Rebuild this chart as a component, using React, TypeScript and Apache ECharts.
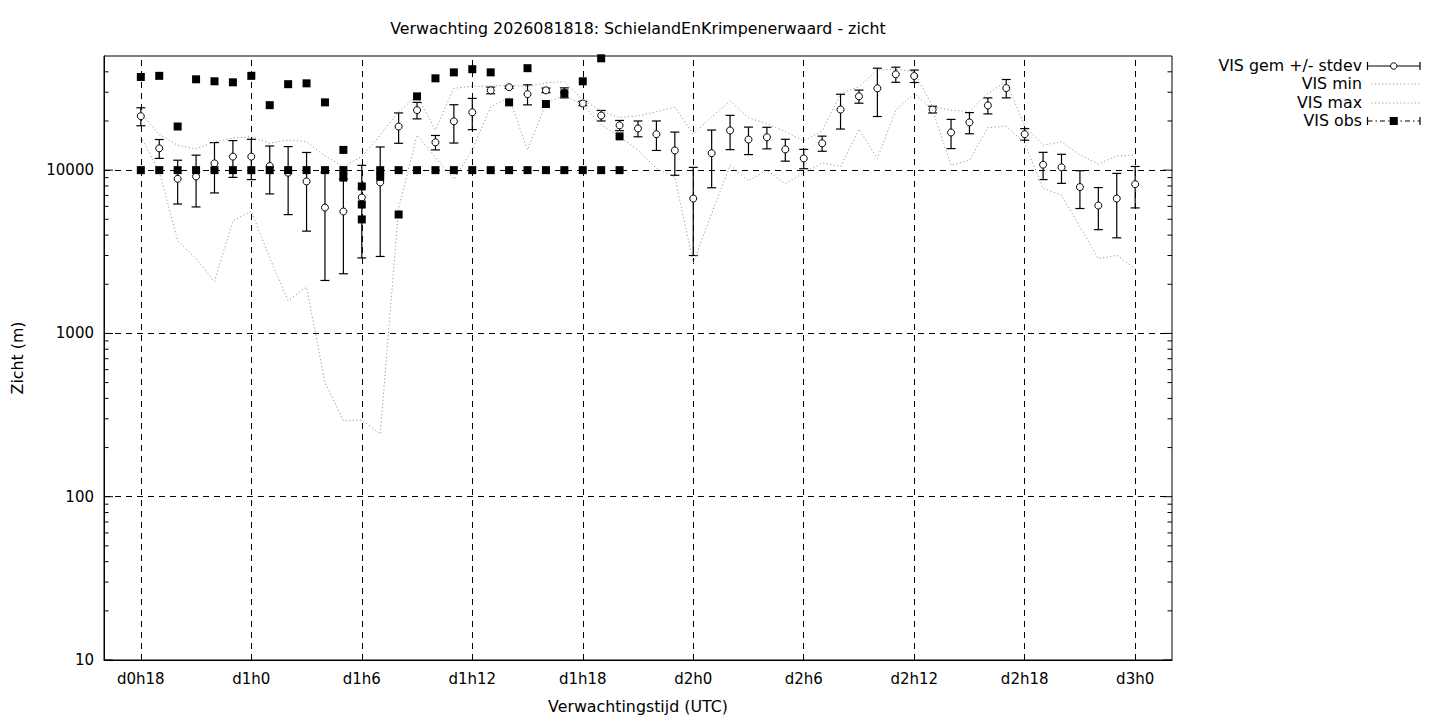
import React, { useEffect, useRef } from "react";
import * as echarts from "echarts";

const FONT = "DejaVu Sans";

const titleText = "Verwachting 2026081818: SchielandEnKrimpenerwaard - zicht";
const yAxisTitle = "Zicht (m)";
const xAxisTitle = "Verwachtingstijd (UTC)";
const legendNames = ["VIS gem +/- stdev", "VIS min", "VIS max", "VIS obs"];

// forecast hours (hours after d0h0)
const hours = [
  18, 19, 20, 21, 22, 23, 24, 25, 26, 27, 28, 29, 30, 31, 32, 33, 34, 35, 36,
  37, 38, 39, 40, 41, 42, 43, 44, 45, 46, 47, 48, 49, 50, 51, 52, 53, 54, 55,
  56, 57, 58, 59, 60, 61, 62, 63, 64, 65, 66, 67, 68, 69, 70, 71, 72,
];
const gemMean = [
  21400, 13600, 8850, 9150, 11000, 12100, 12100, 10600, 9640, 8530, 5900, 5580,
  6800, 8410, 18500, 23300, 14800, 19900, 22600, 30800, 32200, 29200, 30800,
  29800, 25600, 21600, 18800, 18000, 16600, 13200, 6700, 12700, 17500, 15400,
  15900, 13400, 11800, 14600, 23500, 28300, 31700, 38600, 37700, 23500, 17000,
  19600, 24900, 31800, 16600, 10800, 10400, 7870, 6070, 6700, 8200,
];
const gemStdev = [
  2700, 1800, 2650, 3200, 3750, 3070, 3350, 3450, 4300, 4300, 3790, 3260, 3900,
  5450, 3900, 2700, 1500, 5250, 4900, 1450, 500, 4100, 1000, 2100, 800, 1600,
  1350, 2000, 3400, 3900, 3700, 4900, 4150, 2950, 2400, 2050, 1600, 1550, 5650,
  2600, 10400, 4100, 3300, 1100, 3450, 2900, 2800, 4100, 1350, 2050, 2100, 2050,
  1750, 2850, 2330,
];
const visMin = [
  16000, 9800, 3700, 2870, 2080, 4900, 5600, 2900, 1590, 1920, 500, 292, 295,
  243, 5800, 16400, 12000, 8800, 13300, 24400, 27900, 13300, 25600, 28800,
  25000, 19000, 16000, 13260, 10250, 9090, 2700, 5420, 10700, 8600, 10000, 8250,
  9600, 11100, 10500, 17800, 11800, 23300, 29500, 23300, 10700, 11500, 18200,
  18600, 14600, 7730, 7030, 4490, 2870, 3010, 2500,
];
const visMax = [
  22500, 16500, 14200, 13500, 14900, 15700, 16000, 14600, 15300, 14900, 12200,
  10500, 12100, 16400, 22800, 28500, 17600, 31700, 32700, 32700, 33200, 32400,
  34300, 34800, 27000, 23000, 21000, 21500, 22800, 24300, 16600, 21200, 26500,
  20900, 19300, 17200, 15100, 17400, 29500, 32400, 41000, 41500, 40000, 24400,
  23300, 22900, 29500, 34800, 18600, 14200, 14900, 12400, 10900, 12200, 12400,
];

// observations (several readings per hour)
const obsHours = [
  18, 19, 20, 21, 22, 23, 24, 25, 26, 27, 28, 29, 30, 31, 32, 33, 34, 35, 36,
  37, 38, 39, 40, 41, 42, 43, 44,
];
const obsA = [
  37200, 37800, 18500, 36000, 35000, 34500, 37800, 25000, 33600, 34000, 26000,
  13300, 7950, 10000, 10000, 28300, 36500, 39700, 41500, 39700, 26000, 42100,
  25400, 29500, 35000, 48400, 16100,
];
const obsB = [
  10000, 10000, 10000, 10000, 10000, 10000, 10000, 10000, 10000, 10000, 10000,
  10000, 6160, 9100, 5350, 10000, 10000, 10000, 10000, 10000, 10000, 10000,
  10000, 10000, 10000, 10000, 10000,
];
const obsC = [
  null, null, null, null, null, null, null, null, null, null, null, 9000, 4990,
  null, null, null, null, null, null, null, null, null, null, null, null, null,
  null,
];

const xMin = 16;
const xMax = 74;
const xTickHours = [18, 24, 30, 36, 42, 48, 54, 60, 66, 72];
const yMin = 10;
const yMax = 50000;
const yMajorTicks = [10, 100, 1000, 10000];
const yMinorTicks = [
  20, 30, 40, 50, 60, 70, 80, 90, 200, 300, 400, 500, 600, 700, 800, 900, 2000,
  3000, 4000, 5000, 6000, 7000, 8000, 9000, 20000, 30000, 40000,
];

export default function App() {
  const ref = useRef<HTMLDivElement>(null);

  useEffect(() => {
    const chart = echarts.init(ref.current!, null, { renderer: "svg" });

    const gridDash = [6, 5];
    const dotDash = [1.2, 2.4];
    const minMaxColor = "#9a9a9a";
    const textScale = 1.055;

    const obsData: number[][] = [];
    [obsA, obsB, obsC].forEach((arr) => {
      arr.forEach((v, i) => {
        if (v != null) obsData.push([obsHours[i], v as number]);
      });
    });

    const tickData = [
      ...yMajorTicks.map((v) => [xMin, v, 9]),
      ...yMinorTicks.map((v) => [xMin, v, 4.5]),
    ];

    const legendX = 1362;
    const sampleL = 1367.5;
    const sampleR = 1420;
    const sampleM = (sampleL + sampleR) / 2;
    const rowY = [66, 84, 103, 121];
    const txt = (text: string, y: number) => ({
      type: "text",
      x: legendX,
      y,
      scaleX: textScale,
      style: {
        text,
        font: `15px "${FONT}"`,
        fill: "#000",
        align: "right",
        verticalAlign: "middle",
      },
    });
    const blk = { stroke: "#000", lineWidth: 1 };

    const option: any = {
      animation: false,
      backgroundColor: "#fff",
      textStyle: { fontFamily: FONT },
      grid: {
        left: 104,
        top: 56,
        width: 1068,
        height: 604,
        show: true,
        borderColor: "#000",
        borderWidth: 1,
        backgroundColor: "transparent",
      },
      xAxis: {
        type: "value",
        min: xMin,
        max: xMax,
        interval: 2,
        axisLine: { show: true, lineStyle: { color: "#000", width: 1 } },
        axisTick: { show: false },
        splitLine: { show: false },
        axisLabel: {
          color: "#000",
          fontFamily: FONT,
          fontSize: 15,
          margin: 11,
          formatter: (v: number) =>
            xTickHours.includes(v) ? `d${Math.floor(v / 24)}h${v % 24}` : "",
        },
      },
      yAxis: {
        type: "log",
        logBase: 10,
        min: yMin,
        max: yMax,
        axisLine: { show: true, lineStyle: { color: "#000", width: 1 } },
        axisTick: { show: false },
        splitLine: { show: false },
        axisLabel: {
          color: "#000",
          fontFamily: FONT,
          fontSize: 15,
          margin: 10,
          formatter: (v: number) => {
            const r = Math.round(v);
            return yMajorTicks.includes(r) ? String(r) : "";
          },
        },
      },
      series: [
        {
          name: "ticks",
          type: "custom",
          data: tickData,
          encode: { x: 0, y: 1 },
          silent: true,
          renderItem: (params: any, api: any) => {
            const v = api.value(1);
            const len = api.value(2);
            const l = api.coord([xMin, v]);
            const r = api.coord([xMax, v]);
            return {
              type: "group",
              children: [
                {
                  type: "line",
                  shape: { x1: l[0], y1: l[1], x2: l[0] + len, y2: l[1] },
                  style: blk,
                },
                {
                  type: "line",
                  shape: { x1: r[0] - len, y1: r[1], x2: r[0], y2: r[1] },
                  style: blk,
                },
              ],
            };
          },
        },
        {
          name: legendNames[0] + " bars",
          type: "custom",
          data: hours.map((h, i) => [h, gemMean[i], gemStdev[i]]),
          encode: { x: 0, y: 1 },
          silent: true,
          z: 3,
          renderItem: (params: any, api: any) => {
            const h = api.value(0);
            const m = api.value(1);
            const s = api.value(2);
            const t = api.coord([h, m + s]);
            const b = api.coord([h, m - s]);
            const cw = 4.5;
            const st = { stroke: "#000", lineWidth: 1.2 };
            return {
              type: "group",
              children: [
                {
                  type: "line",
                  shape: { x1: t[0], y1: t[1], x2: b[0], y2: b[1] },
                  style: st,
                },
                {
                  type: "line",
                  shape: { x1: t[0] - cw, y1: t[1], x2: t[0] + cw, y2: t[1] },
                  style: st,
                },
                {
                  type: "line",
                  shape: { x1: b[0] - cw, y1: b[1], x2: b[0] + cw, y2: b[1] },
                  style: st,
                },
              ],
            };
          },
        },
        {
          name: legendNames[0],
          type: "scatter",
          data: hours.map((h, i) => [h, gemMean[i]]),
          symbol: "circle",
          symbolSize: 7,
          z: 4,
          itemStyle: {
            color: "#fff",
            borderColor: "#000",
            borderWidth: 1,
            opacity: 1,
          },
          silent: true,
        },
        {
          name: legendNames[1],
          type: "line",
          data: hours.map((h, i) => [h, visMin[i]]),
          showSymbol: false,
          symbol: "none",
          z: 5,
          lineStyle: { color: minMaxColor, width: 1, type: dotDash },
          silent: true,
          markLine: {
            silent: true,
            symbol: ["none", "none"],
            label: { show: false },
            lineStyle: { color: "#000", type: gridDash, width: 1 },
            data: [
              ...xTickHours.map((h) => ({ xAxis: h })),
              ...yMajorTicks.slice(1).map((v) => ({ yAxis: v })),
            ],
            z: 1,
          },
        },
        {
          name: legendNames[2],
          type: "line",
          data: hours.map((h, i) => [h, visMax[i]]),
          showSymbol: false,
          symbol: "none",
          z: 5,
          lineStyle: { color: minMaxColor, width: 1, type: dotDash },
          silent: true,
        },
        {
          name: legendNames[3],
          type: "scatter",
          data: obsData,
          symbol: "rect",
          symbolSize: 8,
          z: 6,
          itemStyle: { color: "#000", opacity: 1 },
          silent: true,
        },
      ],
      graphic: [
        {
          type: "text",
          x: 638,
          y: 29,
          scaleX: textScale,
          style: {
            text: titleText,
            font: `15px "${FONT}"`,
            fill: "#000",
            align: "center",
            verticalAlign: "middle",
          },
        },
        {
          type: "text",
          x: 638,
          y: 707,
          scaleX: textScale,
          style: {
            text: xAxisTitle,
            font: `15px "${FONT}"`,
            fill: "#000",
            align: "center",
            verticalAlign: "middle",
          },
        },
        {
          type: "text",
          x: 18,
          y: 358,
          rotation: Math.PI / 2,
          scaleX: textScale,
          style: {
            text: yAxisTitle,
            font: `15px "${FONT}"`,
            fill: "#000",
            align: "center",
            verticalAlign: "middle",
          },
        },
        txt(legendNames[0], rowY[0]),
        txt(legendNames[1], rowY[1]),
        txt(legendNames[2], rowY[2]),
        txt(legendNames[3], rowY[3]),
        // legend sample: gem +/- stdev
        {
          type: "line",
          shape: { x1: sampleL, y1: rowY[0], x2: sampleR, y2: rowY[0] },
          style: { stroke: "#000", lineWidth: 1.2 },
        },
        {
          type: "line",
          shape: { x1: sampleL, y1: rowY[0] - 4, x2: sampleL, y2: rowY[0] + 4 },
          style: { stroke: "#000", lineWidth: 1.2 },
        },
        {
          type: "line",
          shape: { x1: sampleR, y1: rowY[0] - 4, x2: sampleR, y2: rowY[0] + 4 },
          style: { stroke: "#000", lineWidth: 1.2 },
        },
        {
          type: "circle",
          shape: { cx: sampleM, cy: rowY[0], r: 3.2 },
          style: { fill: "#fff", stroke: "#000", lineWidth: 1 },
        },
        // min / max samples
        {
          type: "line",
          shape: { x1: sampleL + 4, y1: rowY[1], x2: sampleR, y2: rowY[1] },
          style: { stroke: minMaxColor, lineWidth: 1, lineDash: dotDash },
        },
        {
          type: "line",
          shape: { x1: sampleL + 4, y1: rowY[2], x2: sampleR, y2: rowY[2] },
          style: { stroke: minMaxColor, lineWidth: 1, lineDash: dotDash },
        },
        // obs sample
        {
          type: "line",
          shape: { x1: sampleL, y1: rowY[3], x2: sampleR, y2: rowY[3] },
          style: { stroke: "#000", lineWidth: 1, lineDash: [5, 3, 1.5, 3] },
        },
        {
          type: "line",
          shape: { x1: sampleL, y1: rowY[3] - 4, x2: sampleL, y2: rowY[3] + 4 },
          style: { stroke: "#000", lineWidth: 1.2 },
        },
        {
          type: "line",
          shape: { x1: sampleR, y1: rowY[3] - 4, x2: sampleR, y2: rowY[3] + 4 },
          style: { stroke: "#000", lineWidth: 1.2 },
        },
        {
          type: "rect",
          shape: { x: sampleM - 4, y: rowY[3] - 4, width: 8, height: 8 },
          style: { fill: "#000" },
        },
      ],
    };

    chart.setOption(option);
    return () => chart.dispose();
  }, []);

  return (
    <div
      ref={ref}
      style={{
        position: "absolute",
        left: 0,
        top: 0,
        width: 1440,
        height: 720,
        background: "#fff",
      }}
    />
  );
}
